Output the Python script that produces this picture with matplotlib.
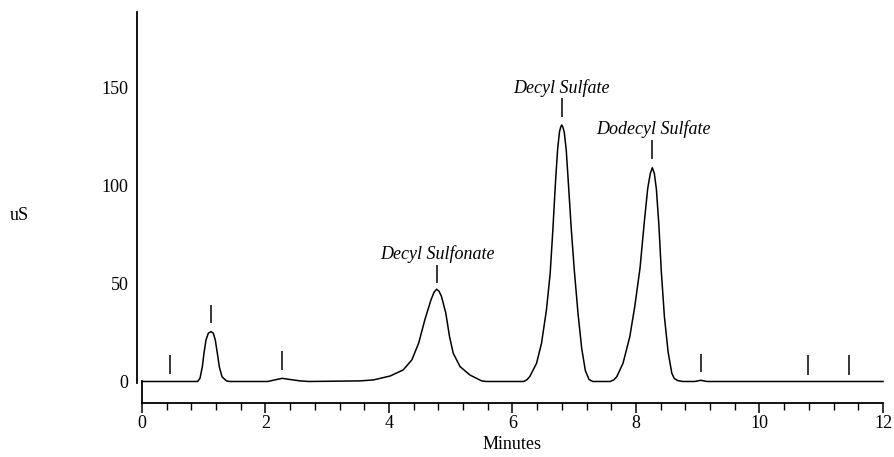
import matplotlib.pyplot as plt
from matplotlib.ticker import MultipleLocator

# chromatogram trace (minutes, uS)
trace_time = [0.0, 0.90, 0.939, 0.977, 1.004, 1.036, 1.074, 1.117, 1.155, 1.187, 1.22,
              1.252, 1.296, 1.368, 1.42, 2.04, 2.15, 2.27, 2.40, 2.56, 2.70,
              3.53, 3.75, 4.02, 4.23, 4.37, 4.48, 4.58, 4.68, 4.73, 4.77, 4.81, 4.85,
              4.92, 4.98, 5.04, 5.15, 5.31, 5.50, 5.58,
              6.18, 6.23, 6.28, 6.39, 6.47, 6.55, 6.61, 6.655, 6.695, 6.73, 6.76, 6.78,
              6.797, 6.815, 6.838, 6.87, 6.905, 6.95, 7.00, 7.06, 7.12, 7.18, 7.24, 7.30,
              7.58, 7.64, 7.69, 7.79, 7.90, 7.98, 8.065, 8.135, 8.19, 8.232, 8.264, 8.297,
              8.33, 8.37, 8.41, 8.46, 8.52, 8.58, 8.62, 8.68, 8.76,
              8.95, 9.05, 9.15, 12.0]
trace_uS = [0.0, 0.0, 1.6, 7.5, 14.4, 21.1, 24.6, 25.4, 24.6, 21.1, 14.4,
            7.5, 2.4, 0.3, 0.0, 0.0, 0.8, 1.6, 1.0, 0.3, 0.0,
            0.3, 0.8, 2.8, 5.9, 11.0, 19.5, 31.4, 41.6, 45.5, 47.0, 46.0, 43.3,
            34.8, 22.9, 14.4, 7.6, 3.3, 0.3, 0.0,
            0.0, 0.8, 2.5, 9.3, 19.5, 36.5, 55.0, 78.0, 101.0, 118.0, 127.0, 129.6,
            130.7, 129.6, 127.0, 118.0, 101.0, 78.5, 57.0, 35.0, 17.0, 5.5, 1.0, 0.0,
            0.0, 0.8, 2.5, 9.3, 22.9, 38.2, 57.7, 81.4, 98.4, 106.0, 108.9, 106.0,
            98.0, 80.0, 56.0, 33.0, 15.0, 4.2, 1.5, 0.4, 0.0,
            0.0, 0.6, 0.0, 0.0]

# event markers (time, bottom, top)
marker_time = [0.45, 1.12, 2.27, 4.77, 6.80, 8.26, 9.05, 10.79, 11.45]
marker_low = [3.8, 29.8, 5.6, 50.2, 134.6, 113.3, 4.8, 3.3, 3.3]
marker_high = [13.5, 39.0, 15.3, 59.4, 144.4, 123.0, 14.0, 13.5, 13.5]

peak_names = ["Decyl Sulfonate", "Decyl Sulfate", "Dodecyl Sulfate"]
peak_label_time = [4.79, 6.80, 8.28]
peak_label_y = [65.0, 149.5, 128.6]

x_ticks = [0, 2, 4, 6, 8, 10, 12]
y_ticks = [0, 50, 100, 150]

plt.rcParams['font.family'] = ['Liberation Serif', 'DejaVu Serif']
fig = plt.figure(figsize=(8.95, 4.57), dpi=100)
ax = fig.add_axes([142 / 895, 0.1137, 741 / 895, 0.8677])
ax.set_xlim(0, 12)
ax.set_ylim(-12, 190)

ax.plot(trace_time, trace_uS, color='black', lw=1.1, clip_on=False)
ax.vlines(marker_time, marker_low, marker_high, color='black', lw=1.1)

for name, t, y in zip(peak_names, peak_label_time, peak_label_y):
    ax.text(t, y, name, ha='center', va='center', fontsize=13, style='italic')

# axes drawn like the original strip chart
ax.spines['top'].set_visible(False)
ax.spines['right'].set_visible(False)
ax.spines['bottom'].set_position(('data', -11))
ax.spines['bottom'].set_bounds(0, 12)
ax.spines['left'].set_position(('data', -0.08))
ax.spines['left'].set_bounds(-0.8, 188)
for s in ['bottom', 'left']:
    ax.spines[s].set_linewidth(1.3)
ax.plot([0, 0], [0.5, -11], color='black', lw=1.3, clip_on=False)

ax.set_xticks(x_ticks)
ax.xaxis.set_minor_locator(MultipleLocator(0.4))
ax.tick_params(axis='x', which='major', length=7.2, width=1.1, pad=1.5, labelsize=13)
ax.tick_params(axis='x', which='minor', length=4.8, width=1.0)
ax.set_yticks(y_ticks)
ax.tick_params(axis='y', length=0, pad=6, labelsize=13)
ax.set_xlabel("Minutes", fontsize=13, labelpad=3)
fig.text(19 / 895, 1 - 215 / 457, "uS", fontsize=13, ha='center', va='center')

fig.savefig("out.png", dpi=100)
